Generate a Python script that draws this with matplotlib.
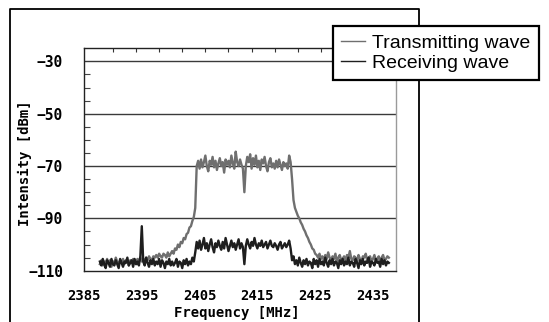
import matplotlib
matplotlib.use("Agg")
import matplotlib.pyplot as plt
from matplotlib.lines import Line2D
from matplotlib.ticker import FixedLocator
import numpy as np

freq_start = 2387.75
freq_step = 0.25

tx_dbm = [
    -107.5, -106.0, -108.0, -106.5, -107.0, -105.5, -107.5, -106.0, -108.5, -106.5,
    -107.0, -105.0, -106.5, -108.0, -106.0, -107.0, -105.5, -107.5, -106.0, -106.5,
    -108.0, -106.0, -107.0, -105.5, -106.5, -107.5, -105.5, -106.5, -105.0, -106.5,
    -105.5, -106.5, -105.0, -106.0, -104.5, -105.5, -106.0, -104.5, -105.0, -104.0,
    -105.0, -103.5, -104.5, -105.0, -103.5, -104.0, -105.0, -103.0, -104.5, -103.5,
    -102.5, -103.5, -101.5, -102.0, -100.0, -101.0, -99.0, -99.5, -97.5, -98.0,
    -96.0, -95.5, -93.5, -93.0, -91.0, -89.5, -86.0, -70.0, -68.0, -71.0,
    -67.5, -70.5, -68.5, -66.0, -70.0, -72.0, -68.0, -69.5, -66.5, -70.5,
    -68.0, -71.5, -69.0, -67.0, -70.0, -68.5, -72.5, -67.5, -69.5, -68.0,
    -70.5, -66.0, -69.0, -71.0, -64.5, -68.5, -70.0, -67.5, -69.5, -71.0,
    -80.0,
    -70.0, -66.5, -68.5, -65.5, -71.0, -67.0, -69.5, -66.0, -70.5,
    -68.0, -71.5, -67.5, -69.0, -66.5, -70.0, -72.0, -68.5, -67.0, -70.5,
    -69.0, -71.0, -68.0, -70.5, -67.5, -69.5, -71.5, -68.5, -70.0, -69.0,
    -71.0, -66.0, -68.5, -75.0, -83.0, -86.0, -87.5, -89.0, -90.0, -91.5,
    -92.5, -94.0, -95.0, -96.5, -97.5, -99.0, -100.0, -101.5, -102.0, -103.5,
    -104.0, -105.0, -103.5, -105.5, -104.5, -106.0, -104.0, -105.5, -103.0, -105.0,
    -106.0, -104.5, -105.5, -103.5, -106.5, -105.0, -104.0, -106.0, -105.5, -104.5,
    -106.5, -104.0, -105.0, -102.5, -105.5, -106.0, -104.5, -105.0, -106.5, -104.0,
    -105.5, -106.5, -104.5, -105.0, -103.5, -106.0, -105.0, -104.5, -106.5, -105.5,
    -104.0, -106.0, -105.5, -104.5, -106.5, -105.0, -104.0, -106.0, -105.5, -104.5, -105.0,
]

rx_dbm = [
    -106.5, -108.0, -105.5, -107.5, -109.0, -106.0, -107.0, -108.5, -105.5, -107.5,
    -108.0, -106.0, -107.5, -109.0, -105.5, -107.0, -108.5, -106.5, -107.0, -105.0,
    -108.0, -107.0, -106.0, -108.5, -105.5, -107.5, -106.5, -108.0, -104.5, -93.0,
    -106.5, -108.0, -105.0, -107.0, -108.5, -106.0, -107.5, -105.5, -108.0, -106.5,
    -107.5, -105.5, -108.5, -106.0, -107.0, -109.0, -106.5, -107.5, -105.5, -108.0,
    -106.5, -108.0, -107.0, -105.5, -108.5, -106.5, -107.0, -109.0, -106.0, -107.5,
    -105.5, -108.0, -106.5, -107.5, -105.0, -106.5, -103.0, -99.0, -101.5, -98.5,
    -102.0, -100.0, -97.5, -101.5, -99.5, -102.5, -100.0, -98.0, -101.0, -103.0,
    -99.5, -101.0, -98.5, -100.5, -102.0, -99.0, -101.5, -97.5, -100.0, -102.5,
    -100.5, -98.5, -101.0, -99.5, -102.0, -100.0, -98.0, -101.5, -99.5, -101.0,
    -107.5,
    -100.5, -98.0, -100.0, -101.5, -99.0, -100.5, -97.5, -100.0, -101.5,
    -99.5, -100.5, -98.5, -101.0, -100.0, -99.0, -101.5, -100.0, -98.5, -100.5,
    -101.0, -99.5, -100.5, -102.0, -100.0, -99.0, -101.5, -100.5, -99.5, -101.0,
    -100.0, -98.5, -101.5, -106.0, -104.5, -107.5, -106.0, -108.0, -105.0, -107.0,
    -108.5, -106.0, -107.5, -105.5, -108.0, -106.5, -107.0, -109.0, -105.5, -107.5,
    -106.0, -108.5, -105.5, -107.5, -106.5, -108.0, -105.0, -107.0, -108.5, -106.0,
    -107.5, -105.5, -108.0, -106.5, -107.0, -109.0, -106.0, -107.5, -105.5, -108.0,
    -106.5, -107.5, -105.0, -108.0, -106.5, -107.0, -108.5, -105.5, -107.0, -109.0,
    -106.0, -107.5, -105.5, -108.0, -106.5, -107.0, -105.0, -108.5, -106.5, -107.0,
    -108.0, -105.5, -107.0, -106.5, -108.5, -105.5, -107.5, -106.0, -108.0, -106.5, -107.0,
]

x_ticks = [2385, 2395, 2405, 2415, 2425, 2435]
y_ticks = [-110, -90, -70, -50, -30]
series_names = ["Transmitting wave", "Receiving wave"]

freq = freq_start + freq_step * np.arange(len(tx_dbm))

W, H = 549, 322
fig = plt.figure(figsize=(W / 100, H / 100), dpi=100)
fig.patch.set_facecolor("white")

# axes placed in pixel terms
left, right, top, bottom = 84, 395.5, 48.3, 270.7
ax = fig.add_axes([left / W, 1 - bottom / H, (right - left) / W, (bottom - top) / H])

mono = {"family": "DejaVu Sans Mono", "weight": "bold"}

ax.plot(freq, tx_dbm, color="#6f6f6f", lw=1.7, label=series_names[0], zorder=3)
ax.plot(freq, rx_dbm, color="#1e1e1e", lw=1.7, label=series_names[1], zorder=4)

for v in y_ticks[1:]:
    ax.axhline(v, color="#3a3a3a", lw=1.0, zorder=1)

ax.set_xlim(2385.9, 2438.9)
ax.set_ylim(-110, -25)

ax.set_xticks(x_ticks)
ax.set_yticks(y_ticks)
ax.set_xticklabels([str(t) for t in x_ticks], fontdict=mono, fontsize=10)
ax.set_yticklabels([f"\u2212{abs(t)}" for t in y_ticks], fontdict=mono, fontsize=10.5)
ax.tick_params(axis="x", which="major", length=0, pad=13)
ax.tick_params(axis="y", which="major", length=0, pad=15)

# small inward ticks on the left and top spines
ax.yaxis.set_minor_locator(FixedLocator([v for v in range(-105, -25, 5) if v % 20 != 10]))
ax.tick_params(axis="y", which="minor", direction="in", length=4, width=0.8, color="#444444")
ax.xaxis.set_minor_locator(FixedLocator(list(range(2390, 2439, 4))))
ax.tick_params(axis="x", which="minor", direction="in", length=3, width=0.8,
               color="#333333", bottom=False, top=True)

for s in ["left", "bottom", "top"]:
    ax.spines[s].set_color("#222222")
    ax.spines[s].set_linewidth(1.0)
ax.spines["right"].set_color("#9a9a9a")
ax.spines["right"].set_linewidth(1.0)

ax.set_xlabel("Frequency [MHz]", fontdict=mono, fontsize=10)
ax.xaxis.set_label_coords(0.49, -0.158)
ax.set_ylabel("Intensity [dBm]", fontdict=mono, fontsize=10)
ax.yaxis.set_label_coords(-0.168, 0.483)

# outer frame, open at the bottom
fx0, fx1, fy = 10 / W, 419 / W, 1 - 9 / H
frame = Line2D([fx0, fx0, fx1, fx1], [-0.1, fy, fy, -0.1], transform=fig.transFigure,
               color="black", lw=1.3, zorder=0)
fig.add_artist(frame)

leg = fig.legend(loc="upper left", bbox_to_anchor=(333 / W, 1 - 26 / H),
                 borderaxespad=0, frameon=True, fancybox=False, framealpha=1,
                 edgecolor="black", prop={"family": "Liberation Sans", "size": 14},
                 handlelength=1.2, handletextpad=0.4, borderpad=0.42, labelspacing=0.15)
leg.get_frame().set_linewidth(1.6)
for h in leg.get_lines():
    h.set_linewidth(1.0)

fig.savefig("out.png", dpi=100)
